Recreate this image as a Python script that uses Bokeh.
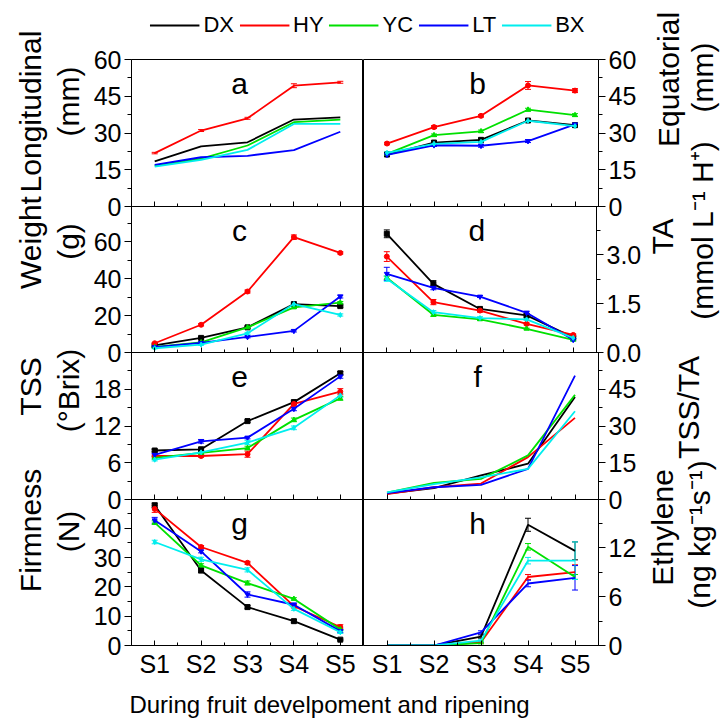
from math import pi
from bokeh.plotting import figure
from bokeh.layouts import row, column
from bokeh.models import (Range1d, FixedTicker, Label, Legend, LegendItem,
                          Whisker, TeeHead, ColumnDataSource, CustomLabelingPolicy)
from bokeh.embed import file_html
from bokeh.resources import INLINE

# ---------------- data ----------------
stages = ["S1", "S2", "S3", "S4", "S5"]
cultivars = ["DX", "HY", "YC", "LT", "BX"]
colors = ["#000000", "#ff0000", "#00e000", "#0000ff", "#00eeee"]
markers = ["square", "circle", "triangle", "inverted_triangle", "diamond"]

# a: longitudinal diameter (mm)
longitudinal = {"DX": [18.4, 24.5, 26.2, 35.5, 36.4],
                "HY": [21.8, 31.0, 36.0, 49.3, 50.7],
                "YC": [16.7, 19.5, 24.9, 34.4, 35.5],
                "LT": [17.0, 20.1, 20.7, 23.0, 30.5],
                "BX": [16.3, 19.0, 23.1, 33.7, 33.7]}
longitudinal_err = {"HY": [0.3, 0.4, 0.4, 0.8, 0.4]}

# b: equatorial diameter (mm)
equatorial = {"DX": [21.2, 26.1, 27.2, 35.1, 33.2],
              "HY": [25.7, 32.4, 37.0, 49.4, 47.3],
              "YC": [21.5, 29.1, 30.7, 39.5, 37.3],
              "LT": [21.1, 25.0, 24.8, 26.7, 33.5],
              "BX": [21.9, 25.6, 26.4, 35.0, 32.8]}
equatorial_err = {"DX": [0.4, 0.4, 0.5, 0.5, 0.4],
                  "HY": [0.5, 0.6, 0.5, 1.6, 0.8],
                  "YC": [0.4, 0.5, 0.5, 0.6, 0.6],
                  "LT": [0.4, 0.5, 0.6, 0.6, 0.5],
                  "BX": [0.4, 0.4, 0.4, 0.5, 0.5]}

# c: weight (g)
weight = {"DX": [3.8, 7.9, 13.6, 26.2, 25.1],
          "HY": [5.0, 15.0, 33.0, 62.4, 53.9],
          "YC": [3.0, 5.5, 13.6, 24.4, 27.0],
          "LT": [2.9, 5.2, 8.4, 11.7, 30.3],
          "BX": [2.3, 4.3, 10.4, 26.2, 20.3]}
weight_err = {"DX": [0.3, 0.4, 0.5, 0.6, 0.6],
              "HY": [0.4, 0.6, 0.8, 1.2, 0.6],
              "YC": [0.3, 0.4, 0.6, 0.6, 0.6],
              "LT": [0.3, 0.4, 0.5, 0.6, 0.8],
              "BX": [0.3, 0.4, 0.5, 0.6, 0.6]}

# d: titratable acidity (mmol L-1 H+)
ta = {"DX": [3.65, 2.11, 1.34, 1.14, 0.47],
      "HY": [2.95, 1.55, 1.29, 0.88, 0.54],
      "YC": [2.30, 1.16, 1.02, 0.73, 0.39],
      "LT": [2.42, 1.99, 1.72, 1.22, 0.39],
      "BX": [2.27, 1.24, 1.06, 1.02, 0.45]}
ta_err = {"DX": [0.12, 0.10, 0.03, 0.05, 0.03],
          "HY": [0.15, 0.08, 0.05, 0.03, 0.03],
          "YC": [0.05, 0.05, 0.03, 0.02, 0.02],
          "LT": [0.20, 0.06, 0.03, 0.05, 0.03],
          "BX": [0.08, 0.05, 0.04, 0.03, 0.03]}

# e: total soluble solids (oBrix)
tss = {"DX": [8.0, 8.2, 12.8, 15.9, 20.6],
       "HY": [7.1, 7.1, 7.4, 15.6, 17.6],
       "YC": [6.8, 7.6, 8.4, 13.0, 16.5],
       "LT": [7.3, 9.5, 10.1, 14.8, 20.1],
       "BX": [6.5, 7.7, 9.3, 11.7, 17.0]}
tss_err = {"DX": [0.2, 0.2, 0.2, 0.3, 0.3],
           "HY": [0.2, 0.2, 0.5, 0.3, 0.5],
           "YC": [0.2, 0.2, 0.3, 0.3, 0.3],
           "LT": [0.2, 0.3, 0.2, 0.3, 0.3],
           "BX": [0.2, 0.2, 0.3, 0.3, 0.3]}

# f: TSS/TA ratio
ratio = {"DX": [2.4, 4.6, 9.8, 14.6, 41.8],
         "HY": [2.2, 5.0, 6.5, 17.3, 33.3],
         "YC": [2.8, 6.8, 8.4, 18.0, 42.7],
         "LT": [2.6, 5.0, 6.0, 12.5, 50.6],
         "BX": [2.9, 6.3, 9.0, 12.5, 36.0]}

# g: firmness (N)
firmness = {"DX": [47.8, 25.6, 13.1, 8.3, 2.0],
            "HY": [46.6, 33.6, 28.2, 13.4, 6.3],
            "YC": [41.9, 27.3, 21.3, 15.9, 5.5],
            "LT": [42.7, 32.1, 17.4, 13.9, 4.9],
            "BX": [35.3, 29.4, 25.8, 12.5, 4.5]}
firmness_err = {"DX": [0.8, 0.8, 0.6, 0.5, 0.2],
                "HY": [1.2, 0.5, 0.5, 0.6, 0.8],
                "YC": [0.6, 0.6, 0.7, 0.4, 0.4],
                "LT": [1.0, 0.5, 0.9, 0.6, 0.5],
                "BX": [0.6, 0.7, 0.7, 0.5, 0.4]}

# h: ethylene (ng kg-1 s-1)
ethylene = {"DX": [0.0, 0.0, 1.1, 14.8, 11.6],
            "HY": [0.0, 0.0, 0.4, 8.4, 9.0],
            "YC": [0.0, 0.0, 0.3, 12.1, 8.4],
            "LT": [0.0, 0.0, 1.6, 7.6, 8.3],
            "BX": [0.0, 0.0, 0.6, 10.4, 10.4]}
ethylene_err = {"DX": [0, 0, 0.2, 0.8, 1.1],
                "HY": [0, 0, 0.1, 0.3, 0.9],
                "YC": [0, 0, 0.1, 0.4, 0.3],
                "LT": [0, 0, 0.2, 0.4, 1.5],
                "BX": [0, 0, 0.1, 0.4, 2.3]}

# axis ticks / tick labels
ticks_mm = [0, 15, 30, 45, 60]
labels_mm = ["0", "15", "30", "45", "60"]
ticks_g = [0, 20, 40, 60]
labels_g = ["0", "20", "40", "60"]
ticks_ta = [0.0, 1.5, 3.0]
labels_ta = ["0.0", "1.5", "3.0"]
ticks_tss = [0, 6, 12, 18]
labels_tss = ["0", "6", "12", "18"]
ticks_ratio = [0, 15, 30, 45]
labels_ratio = ["0", "15", "30", "45"]
ticks_n = [0, 10, 20, 30, 40]
labels_n = ["0", "10", "20", "30", "40"]
ticks_eth = [0, 6, 12]
labels_eth = ["0", "6", "12"]

left_titles = [["Longitudinal", "(mm)"], ["Weight", "(g)"], ["TSS", "(\u00b0Brix)"], ["Firmness", "(N)"]]
right_titles = [["Equatorial", "(mm)"], ["TA", "(mmol L\u207b\u00b9 H\u207a)"], ["TSS/TA"], ["Ethylene", "(ng kg\u207b\u00b9s\u207b\u00b9)"]]
x_title = "During fruit develpoment and ripening"

FONT = "Liberation Sans"

panels = [
    # (letter, values, errors, ymax, ticks, labels, minor, markers)
    [("a", longitudinal, longitudinal_err, 60, ticks_mm, labels_mm, [7.5, 22.5, 37.5, 52.5], False),
     ("b", equatorial, equatorial_err, 60, ticks_mm, labels_mm, [7.5, 22.5, 37.5, 52.5], True)],
    [("c", weight, weight_err, 79, ticks_g, labels_g, [10, 30, 50, 70], True),
     ("d", ta, ta_err, 4.49, ticks_ta, labels_ta, [0.75, 2.25, 3.75], True)],
    [("e", tss, tss_err, 24.0, ticks_tss, labels_tss, [3, 9, 15, 21], True),
     ("f", ratio, None, 60, ticks_ratio, labels_ratio, [7.5, 22.5, 37.5, 52.5], False)],
    [("g", firmness, firmness_err, 49.8, ticks_n, labels_n, [5, 15, 25, 35, 45], True),
     ("h", ethylene, ethylene_err, 17.9, ticks_eth, labels_eth, [3, 9, 15], False)],
]

# page geometry (pixels)
LEFT_STRIP = 90          # x 0..90
RIGHT_STRIP = 77         # x 644..721
BL, BR = 39, 46          # space for y tick labels
FW_L, FW_R = 234, 235    # frame widths
MID_W = BL + FW_L + FW_R + BR
# rows: frame height, top border, bottom border, overlap with next row
ROWS = [(147, 15, 15, -15), (146, 0, 15, -15), (147, 0, 15, -15), (146, 0, 36, 0)]


def make_panel(cfg, col, r):
    letter, vals, errs, ymax, ticks, labels, minor, marks = cfg
    fh, bt, bb, _ = ROWS[r]
    left = col == 0
    fw = FW_L if left else FW_R
    bl = BL if left else 0
    br = 0 if left else BR
    xs = list(range(1, len(stages) + 1))
    p = figure(width=fw + bl + br, height=fh + bt + bb,
               x_range=Range1d(0.5, len(stages) + 0.5), y_range=Range1d(0, ymax),
               toolbar_location=None, output_backend="svg",
               y_axis_location="left" if left else "right",
               min_border_left=bl, min_border_right=br,
               min_border_top=bt, min_border_bottom=bb,
               border_fill_color=None, background_fill_color=None,
               outline_line_color="black", outline_line_width=1)
    p.grid.visible = False

    xa = p.xaxis[0]
    xa.ticker = FixedTicker(ticks=xs, minor_ticks=[x + 0.5 for x in xs[:-1]])
    xa.major_tick_in = 5
    xa.major_tick_out = 0
    xa.minor_tick_in = 3
    xa.minor_tick_out = 0
    xa.axis_line_color = "black"
    if r == len(ROWS) - 1:
        xa.major_label_overrides = {x: s for x, s in zip(xs, stages)}
        xa.major_label_text_font_size = "25px"
        xa.major_label_text_font = FONT
        xa.major_label_text_color = "black"
        xa.major_label_standoff = 4
    else:
        # inner panels: ticks only, no tick labels
        xa.major_label_text_font_size = "1px"
        xa.major_label_standoff = 0
        xa.major_label_policy = CustomLabelingPolicy(code="return new Set()")

    ya = p.yaxis[0]
    ya.ticker = FixedTicker(ticks=ticks, minor_ticks=minor)
    ya.major_label_overrides = {t: s for t, s in zip(ticks, labels)}
    ya.major_tick_out = 7
    ya.major_tick_in = 0
    ya.minor_tick_out = 4
    ya.minor_tick_in = 0
    ya.major_label_text_font_size = "25px"
    ya.major_label_text_font = FONT
    ya.major_label_text_color = "black"
    ya.major_label_standoff = 3
    ya.axis_line_color = "black"

    for i, cv in enumerate(cultivars):
        ys = vals[cv]
        p.line(xs, ys, line_color=colors[i], line_width=1.8)
        if marks:
            p.scatter(xs, ys, marker=markers[i], size=5, color=colors[i])
        if errs and cv in errs:
            pts = [(x, y, e) for x, y, e in zip(xs, ys, errs[cv]) if e > 0]
            src = ColumnDataSource(dict(x=[t[0] for t in pts],
                                        upper=[t[1] + t[2] for t in pts],
                                        lower=[t[1] - t[2] for t in pts]))
            p.add_layout(Whisker(source=src, base="x", upper="upper", lower="lower",
                                 line_color=colors[i], line_width=1,
                                 upper_head=TeeHead(size=6, line_color=colors[i], line_width=1),
                                 lower_head=TeeHead(size=6, line_color=colors[i], line_width=1)))

    p.add_layout(Label(x=2.83 if left else 2.93, y=ymax - ymax * 24.0 / fh, text=letter,
                       text_align="center", text_baseline="middle",
                       text_font=FONT, text_font_size="30px", text_color="black"))
    return p


def blank(width, height, x0, x1, y0, y1, **kw):
    f = figure(width=width, height=height, x_range=Range1d(x0, x1), y_range=Range1d(y0, y1),
               toolbar_location=None, output_backend="svg", min_border=0,
               x_axis_location=None, y_axis_location=None,
               outline_line_color=None, border_fill_color=None, background_fill_color=None, **kw)
    f.grid.visible = False
    return f


# header with legend (page y 0..50, overlapping the first row by 6 px)
hdr = blank(MID_W, 50, 0, 1, 0, 1, margin=(0, 0, -6, 0))
items = []
xs_all = list(range(1, len(stages) + 1))
for i, cv in enumerate(cultivars):
    # the series drawn here fall outside the header's range: only the legend glyph shows
    rr = hdr.line(xs_all, longitudinal[cv], line_color=colors[i], line_width=2)
    items.append(LegendItem(label=cv, renderers=[rr]))
hdr.add_layout(Legend(items=items, orientation="horizontal", location="center",
                      glyph_width=50, glyph_height=20, label_standoff=4, spacing=5,
                      padding=0, margin=0, border_line_color=None,
                      background_fill_color=None, background_fill_alpha=0,
                      label_text_font=FONT, label_text_font_size="22px",
                      label_text_color="black"), "center")

rows = []
for r, pair in enumerate(panels):
    figs = [make_panel(cfg, c, r) for c, cfg in enumerate(pair)]
    rows.append(row(*figs, margin=(0, 0, ROWS[r][3], 0)))

# footer (page coords x 90..644, y 681..722)
ftr = blank(MID_W, 41, LEFT_STRIP, LEFT_STRIP + MID_W, 722, 681)
ftr.add_layout(Label(x=329, y=704, text=x_title, text_align="center", text_baseline="middle",
                     text_font=FONT, text_font_size="24px", text_color="black"))

TITLE_SIZE = "30px"
# left strip (page coords x 0..90, y 0..722)
ls = blank(LEFT_STRIP, 722, 0, LEFT_STRIP, 722, 0)
left_pos = [[(30, 111), (68, 101)], [(30, 242), (68, 241)], [(30, 386), (68, 390)], [(30, 530), (68, 531)]]
for texts, poss in zip(left_titles, left_pos):
    for t, (x, y) in zip(texts, poss):
        ls.add_layout(Label(x=x, y=y, text=t, angle=pi / 2, text_align="center", text_baseline="middle",
                            text_font=FONT, text_font_size=TITLE_SIZE, text_color="black"))

# right strip (page coords x 644..721)
x_rs = LEFT_STRIP + MID_W
rs = blank(RIGHT_STRIP, 722, x_rs, x_rs + RIGHT_STRIP, 722, 0)
right_pos = [[(668, 79), (702, 77)], [(662, 236), (702, 230)], [(688, 407)], [(662, 527), (699, 534)]]
for texts, poss in zip(right_titles, right_pos):
    for t, (x, y) in zip(texts, poss):
        rs.add_layout(Label(x=x, y=y, text=t, angle=pi / 2, text_align="center", text_baseline="middle",
                            text_font=FONT, text_font_size=TITLE_SIZE, text_color="black"))

mid = column(hdr, *rows, ftr)
layout = row(ls, mid, rs)

open("out.html", "w").write(file_html(layout, INLINE))
